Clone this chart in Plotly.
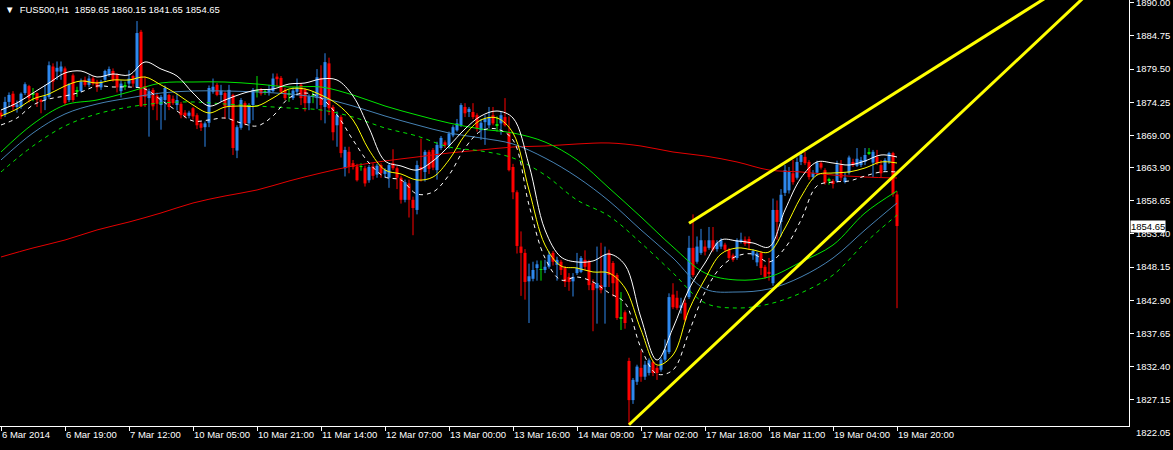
import plotly.graph_objects as go

# FUS500 H1 candles, 6 Mar 2014 - 19 Mar 2014
opens = [
    1872.6, 1872.3, 1874.3, 1875.6, 1873.5, 1873.5, 1875.7, 1876.8,
    1875.5, 1875.7, 1874.6, 1874.6, 1875.1, 1879.9, 1879.1, 1879.1,
    1879.6, 1874.6, 1878.5, 1876.0, 1876.0, 1877.8, 1877.0, 1878.0,
    1877.5, 1876.6, 1877.8, 1878.6, 1879.2, 1878.6, 1876.0, 1876.8,
    1877.2, 1878.4, 1876.6, 1885.4, 1876.8, 1874.9, 1876.2, 1875.3,
    1873.8, 1874.6, 1875.4, 1874.8, 1873.8, 1874.0, 1872.6, 1872.1,
    1873.3, 1872.2, 1870.9, 1870.3, 1871.0, 1875.9, 1877.0, 1875.4,
    1875.7, 1873.6, 1875.4, 1866.6, 1870.2, 1874.1, 1870.9, 1873.8,
    1876.0, 1876.2, 1875.8, 1875.8, 1876.0, 1878.3, 1878.1, 1876.2,
    1875.5, 1874.9, 1875.9, 1877.0, 1876.2, 1874.1, 1875.1, 1874.9,
    1878.1, 1873.5, 1880.4, 1873.5, 1870.6, 1871.9, 1863.8, 1866.4,
    1864.6, 1864.1, 1864.0, 1863.8, 1861.9, 1864.1, 1862.8, 1864.3,
    1862.9, 1862.3, 1864.6, 1863.8, 1862.3, 1858.8, 1861.4, 1858.8,
    1857.2, 1864.0, 1863.2, 1866.4, 1866.7, 1863.5, 1867.0, 1867.9,
    1867.4, 1869.0, 1869.8, 1870.6, 1873.5, 1872.7, 1872.7, 1872.2,
    1869.8, 1871.1, 1870.6, 1872.2, 1870.6, 1870.9, 1871.9, 1869.5,
    1864.0, 1860.0, 1851.4, 1850.4, 1845.9, 1846.3, 1848.0, 1847.7,
    1847.7, 1848.2, 1850.4, 1848.5, 1849.0, 1848.0, 1846.6, 1845.9,
    1847.2, 1847.4, 1849.3, 1849.0, 1845.6, 1844.8, 1845.3, 1845.0,
    1850.4, 1848.8, 1846.9, 1840.0, 1841.0, 1833.3, 1827.1, 1830.0,
    1832.2, 1830.8, 1831.4, 1833.1, 1832.2, 1831.9, 1833.5, 1834.7,
    1843.8, 1843.3, 1841.7, 1842.5, 1843.4, 1851.2, 1849.0, 1850.4,
    1851.4, 1851.2, 1852.4, 1851.0, 1851.4, 1851.7, 1850.9, 1850.0,
    1849.6, 1852.2, 1852.5, 1852.6, 1850.0, 1848.9, 1850.4, 1848.2,
    1847.4, 1845.6, 1857.2, 1855.3, 1859.9, 1860.3, 1863.0, 1862.3,
    1864.8, 1865.6, 1864.8, 1862.4, 1863.1, 1864.6, 1863.5, 1861.8,
    1861.8, 1861.7, 1864.3, 1861.6, 1863.1, 1864.8, 1864.2, 1864.3,
    1864.8, 1866.2, 1864.7, 1865.6, 1864.3, 1863.5, 1864.8, 1866.2,
    1859.65,
]
highs = [
    1873.0, 1875.1, 1875.8, 1876.0, 1874.5, 1875.8, 1877.4, 1877.0,
    1876.5, 1875.8, 1874.8, 1877.0, 1880.7, 1880.4, 1880.7, 1880.7,
    1879.9, 1877.3, 1878.8, 1876.7, 1878.0, 1878.3, 1878.5, 1878.3,
    1877.8, 1877.8, 1879.4, 1879.9, 1879.6, 1878.8, 1877.7, 1877.5,
    1879.3, 1878.6, 1887.1, 1885.7, 1878.3, 1876.4, 1876.5, 1875.8,
    1875.4, 1876.9, 1875.6, 1875.3, 1875.6, 1874.3, 1873.0, 1872.9,
    1873.5, 1872.5, 1871.2, 1871.2, 1876.9, 1878.0, 1877.3, 1877.0,
    1876.0, 1877.0, 1875.6, 1870.6, 1874.9, 1874.4, 1874.1, 1876.5,
    1878.4, 1876.5, 1876.2, 1877.0, 1878.8, 1878.8, 1878.4, 1876.5,
    1876.2, 1876.6, 1878.0, 1877.3, 1876.5, 1875.5, 1876.0, 1879.5,
    1880.1, 1882.0, 1881.3, 1873.8, 1872.8, 1872.2, 1867.2, 1867.2,
    1865.1, 1864.5, 1864.6, 1864.2, 1864.3, 1864.6, 1864.5, 1864.6,
    1863.8, 1864.6, 1866.8, 1864.1, 1862.6, 1862.0, 1862.0, 1859.3,
    1865.0, 1868.5, 1866.7, 1866.7, 1867.0, 1868.0, 1868.9, 1868.2,
    1869.6, 1870.6, 1871.6, 1874.1, 1874.1, 1873.5, 1874.1, 1872.5,
    1871.6, 1872.2, 1873.5, 1873.5, 1872.0, 1872.8, 1874.9, 1872.0,
    1864.5, 1860.3, 1853.8, 1851.0, 1848.7, 1849.0, 1849.2, 1849.2,
    1849.3, 1850.7, 1850.7, 1849.8, 1849.3, 1848.3, 1847.2, 1847.2,
    1850.4, 1849.9, 1850.8, 1849.3, 1846.2, 1851.4, 1852.0, 1851.4,
    1850.9, 1849.1, 1847.2, 1844.2, 1841.3, 1833.8, 1830.6, 1832.7,
    1835.0, 1833.3, 1833.7, 1833.4, 1832.5, 1833.8, 1836.7, 1844.0,
    1845.6, 1844.4, 1843.3, 1843.0, 1853.1, 1856.5, 1853.0, 1854.2,
    1852.4, 1854.5, 1854.5, 1852.4, 1852.7, 1852.0, 1851.2, 1850.3,
    1852.7, 1853.6, 1853.0, 1853.0, 1851.0, 1850.6, 1850.7, 1848.5,
    1849.6, 1859.0, 1858.7, 1860.5, 1864.3, 1864.0, 1865.1, 1865.5,
    1866.4, 1866.4, 1865.1, 1863.5, 1865.0, 1864.9, 1863.8, 1862.3,
    1862.1, 1865.0, 1865.1, 1863.1, 1865.8, 1865.3, 1867.0, 1865.6,
    1867.0, 1867.0, 1866.7, 1866.7, 1865.1, 1865.4, 1866.4, 1866.4,
    1860.15,
]
lows = [
    1871.6, 1871.9, 1873.5, 1873.0, 1872.6, 1873.2, 1875.4, 1874.2,
    1874.4, 1873.5, 1872.5, 1873.0, 1874.8, 1876.2, 1877.8, 1877.8,
    1873.8, 1874.3, 1874.3, 1875.1, 1875.8, 1876.7, 1876.6, 1876.9,
    1875.9, 1876.2, 1877.5, 1878.3, 1877.5, 1875.8, 1875.0, 1876.2,
    1876.6, 1876.6, 1876.5, 1873.5, 1873.5, 1868.8, 1873.0, 1871.4,
    1869.9, 1871.4, 1873.0, 1873.8, 1873.0, 1871.7, 1871.7, 1871.7,
    1871.5, 1870.0, 1869.7, 1867.2, 1870.3, 1875.6, 1875.2, 1874.3,
    1871.6, 1871.6, 1865.9, 1865.4, 1869.9, 1870.6, 1869.8, 1871.4,
    1875.0, 1875.3, 1875.4, 1875.3, 1875.8, 1876.8, 1875.6, 1874.6,
    1874.3, 1874.6, 1875.3, 1873.8, 1872.8, 1873.0, 1874.1, 1873.2,
    1871.4, 1870.9, 1872.2, 1868.2, 1867.2, 1865.5, 1862.5, 1863.0,
    1863.6, 1861.7, 1863.4, 1860.9, 1861.5, 1862.0, 1862.3, 1862.3,
    1862.3, 1860.7, 1863.5, 1860.5, 1858.2, 1858.4, 1856.0, 1853.2,
    1856.5, 1861.7, 1861.7, 1862.9, 1863.5, 1862.0, 1866.7, 1867.0,
    1866.9, 1868.7, 1869.6, 1870.3, 1871.9, 1871.9, 1871.6, 1869.6,
    1868.3, 1867.5, 1870.1, 1870.6, 1869.6, 1869.1, 1870.4, 1863.3,
    1858.9, 1850.3, 1843.6, 1843.0, 1839.3, 1845.9, 1846.0, 1846.0,
    1847.2, 1847.9, 1848.4, 1846.0, 1846.9, 1845.0, 1844.4, 1843.5,
    1846.9, 1847.2, 1847.7, 1844.5, 1838.0, 1839.2, 1844.0, 1839.2,
    1845.0, 1843.5, 1839.8, 1838.2, 1838.4, 1823.2, 1826.5, 1829.5,
    1830.0, 1830.3, 1831.0, 1830.9, 1830.3, 1831.6, 1833.2, 1834.4,
    1841.5, 1841.4, 1840.8, 1839.5, 1843.1, 1846.6, 1848.7, 1850.1,
    1850.0, 1850.9, 1850.6, 1850.6, 1851.0, 1850.6, 1849.3, 1849.0,
    1849.3, 1851.9, 1851.5, 1850.9, 1849.3, 1848.3, 1846.9, 1846.3,
    1846.0, 1845.2, 1852.5, 1853.0, 1859.4, 1859.8, 1861.2, 1862.0,
    1864.3, 1864.3, 1862.0, 1862.0, 1862.7, 1863.6, 1861.2, 1861.2,
    1860.6, 1861.5, 1861.8, 1861.4, 1862.8, 1864.0, 1864.0, 1864.0,
    1864.3, 1865.9, 1862.4, 1864.3, 1862.4, 1863.2, 1864.5, 1859.3,
    1841.65,
]
closes = [
    1872.0, 1874.3, 1875.4, 1873.5, 1873.9, 1875.6, 1877.1, 1874.9,
    1875.5, 1874.6, 1874.4, 1875.2, 1880.1, 1877.5, 1879.7, 1879.9,
    1874.1, 1877.1, 1874.6, 1876.0, 1877.5, 1877.0, 1878.0, 1877.2,
    1876.6, 1877.5, 1879.2, 1879.5, 1877.8, 1876.6, 1877.2, 1876.8,
    1878.0, 1877.2, 1885.2, 1873.6, 1875.1, 1876.0, 1873.6, 1874.0,
    1875.1, 1876.5, 1873.5, 1874.1, 1874.6, 1872.2, 1872.1, 1872.6,
    1872.0, 1870.6, 1870.2, 1870.9, 1876.5, 1876.7, 1875.4, 1876.1,
    1873.6, 1876.2, 1867.0, 1870.3, 1874.6, 1870.9, 1873.8, 1876.2,
    1876.0, 1875.6, 1875.8, 1876.2, 1878.0, 1877.9, 1875.9, 1874.9,
    1875.5, 1876.1, 1876.6, 1874.9, 1874.1, 1875.2, 1875.1, 1878.2,
    1873.8, 1880.6, 1873.3, 1869.5, 1872.2, 1866.2, 1866.7, 1864.0,
    1864.0, 1861.9, 1864.0, 1861.4, 1864.0, 1862.6, 1864.2, 1863.0,
    1863.5, 1864.3, 1863.8, 1862.3, 1858.8, 1861.6, 1858.8, 1857.5,
    1864.3, 1863.5, 1866.4, 1863.7, 1863.9, 1867.5, 1868.6, 1867.4,
    1869.3, 1870.3, 1870.9, 1873.8, 1872.5, 1873.2, 1871.9, 1870.1,
    1871.0, 1871.6, 1871.9, 1870.9, 1870.6, 1872.2, 1870.6, 1863.5,
    1860.0, 1851.5, 1850.4, 1845.8, 1846.7, 1847.7, 1848.6, 1847.7,
    1848.2, 1850.1, 1849.0, 1849.3, 1847.7, 1845.8, 1845.8, 1846.6,
    1848.0, 1849.6, 1848.2, 1845.3, 1844.5, 1845.6, 1844.5, 1850.1,
    1846.9, 1845.6, 1840.1, 1840.0, 1839.3, 1827.1, 1830.3, 1832.4,
    1830.8, 1832.7, 1833.4, 1831.4, 1831.4, 1833.5, 1835.1, 1843.4,
    1841.8, 1841.7, 1842.1, 1839.8, 1851.2, 1846.9, 1851.4, 1852.4,
    1850.6, 1852.4, 1850.9, 1852.0, 1852.4, 1850.9, 1849.6, 1849.3,
    1852.4, 1852.5, 1851.8, 1851.8, 1850.7, 1850.3, 1848.0, 1846.6,
    1847.2, 1857.2, 1855.3, 1859.6, 1863.5, 1863.2, 1861.6, 1864.8,
    1865.9, 1864.6, 1862.4, 1863.0, 1864.7, 1863.9, 1861.5, 1861.8,
    1861.3, 1864.4, 1862.3, 1862.3, 1865.5, 1864.3, 1865.3, 1865.1,
    1865.9, 1866.2, 1866.4, 1864.6, 1863.0, 1865.1, 1866.2, 1859.7,
    1854.65,
]

# time axis: one label every 16 bars
date_bars = list(range(0, 225, 16))
date_labels = ["6 Mar 2014", "6 Mar 19:00", "7 Mar 12:00", "10 Mar 05:00",
               "10 Mar 21:00", "11 Mar 14:00", "12 Mar 07:00", "13 Mar 00:00",
               "13 Mar 16:00", "14 Mar 09:00", "17 Mar 02:00", "17 Mar 18:00",
               "18 Mar 11:00", "19 Mar 04:00", "19 Mar 20:00"]

price_ticks = [1890.00, 1884.75, 1879.50, 1874.25, 1869.00, 1863.90, 1858.65,
               1853.40, 1848.15, 1842.90, 1837.65, 1832.40, 1827.15]
price_bottom = 1822.05
y_min, y_max = 1823.0, 1890.43

# fast envelope (read every 4 bars)
fast_bars = list(range(0, 225, 4))
env_high = [1873.02, 1874.13, 1875.71, 1877.29, 1878.88, 1879.19, 1878.24, 1878.72,
            1878.56, 1880.62, 1879.51, 1878.40, 1875.71, 1873.65, 1874.60, 1875.55,
            1876.19, 1876.34, 1877.13, 1877.29, 1877.93, 1877.77, 1875.24, 1870.17,
            1864.95, 1864.16, 1863.52, 1864.95, 1867.32, 1870.01, 1872.07, 1872.86,
            1871.75, 1864.31, 1854.03, 1849.75, 1848.96, 1849.12, 1850.23, 1848.49,
            1840.10, 1833.45, 1838.51, 1844.69, 1848.80, 1852.44, 1852.29, 1851.97,
            1851.34, 1857.19, 1862.26, 1864.79, 1864.63, 1864.31, 1864.95, 1865.90,
            1865.58]
env_mid = [1872.07, 1873.18, 1874.76, 1875.55, 1876.82, 1877.61, 1877.29, 1877.77,
           1877.77, 1878.24, 1876.98, 1875.55, 1873.81, 1872.55, 1873.49, 1873.65,
           1873.65, 1874.92, 1876.34, 1876.34, 1875.39, 1873.97, 1871.44, 1866.69,
           1863.52, 1862.89, 1861.94, 1862.41, 1865.11, 1869.06, 1871.44, 1871.75,
           1869.38, 1860.36, 1851.65, 1848.33, 1848.01, 1847.38, 1847.22, 1844.85,
           1838.20, 1832.66, 1834.24, 1841.37, 1846.27, 1850.23, 1851.18, 1850.86,
           1850.54, 1854.34, 1859.25, 1862.73, 1863.05, 1863.21, 1863.84, 1864.79,
           1864.63]
env_low = [1870.65, 1871.75, 1873.81, 1874.76, 1875.24, 1875.87, 1876.82, 1876.66,
           1876.66, 1876.34, 1874.60, 1872.86, 1871.28, 1871.44, 1871.75, 1870.96,
           1870.49, 1872.07, 1874.92, 1875.71, 1874.92, 1872.23, 1868.27, 1864.63,
           1862.41, 1861.94, 1859.72, 1860.04, 1862.73, 1867.00, 1869.70, 1870.01,
           1868.27, 1857.98, 1849.59, 1846.11, 1846.59, 1845.80, 1844.06, 1842.47,
           1835.35, 1831.23, 1831.87, 1837.88, 1844.21, 1848.17, 1849.91, 1850.23,
           1848.96, 1851.18, 1855.61, 1860.99, 1861.62, 1861.78, 1862.57, 1863.21,
           1863.21]

# slow channel + long average (read every 8 bars)
slow_bars = list(range(0, 225, 8))
slow_high = [1866.37, 1870.80, 1873.81, 1874.60, 1875.87, 1877.29, 1877.45, 1877.45,
             1877.13, 1876.66, 1876.66, 1875.39, 1873.65, 1872.23, 1870.96, 1870.01,
             1869.38, 1867.95, 1865.11, 1860.67, 1856.08, 1851.34, 1847.22, 1846.11,
             1846.59, 1848.96, 1851.65, 1856.72, 1860.20]
slow_mid = [1865.11, 1869.38, 1872.39, 1873.97, 1874.92, 1875.71, 1876.03, 1876.03,
            1875.87, 1875.55, 1874.92, 1873.65, 1872.07, 1870.65, 1869.38, 1868.59,
            1867.64, 1865.42, 1862.41, 1858.62, 1854.03, 1849.59, 1844.69, 1844.21,
            1844.69, 1846.59, 1849.59, 1854.03, 1858.30]
slow_low = [1863.21, 1867.32, 1870.49, 1872.39, 1873.49, 1874.13, 1874.29, 1873.97,
            1873.65, 1873.34, 1873.02, 1871.91, 1870.17, 1868.90, 1867.16, 1866.53,
            1865.42, 1862.73, 1858.77, 1856.24, 1851.97, 1847.22, 1842.47, 1841.68,
            1842.31, 1844.06, 1846.90, 1851.97, 1856.40]
long_ma = [1849.75, 1851.18, 1852.44, 1854.03, 1855.29, 1856.72, 1858.30, 1859.41,
           1860.36, 1861.78, 1863.05, 1864.16, 1864.95, 1865.58, 1866.21, 1866.69,
           1867.16, 1867.32, 1867.64, 1867.80, 1867.32, 1866.37, 1865.74, 1864.79,
           1863.52, 1863.21, 1862.73, 1862.41, 1862.26]

# hand-drawn trend lines (bar, price anchors)
upper_trend_bars = [172, 262]
upper_trend_prices = [1855.1, 1891.1]
lower_trend_bars = [157, 272]
lower_trend_prices = [1823.2, 1891.6]

UP = "#2f88ee"
DOWN = "#ff0000"
DOJI = "#00e600"
FONT = "Liberation Sans, Arial, sans-serif"

bars = list(range(len(opens)))
body_col, body_base, body_len = [], [], []
wicks = {UP: ([], []), DOWN: ([], []), DOJI: ([], [])}
for i in bars:
    o, h, l, c = opens[i], highs[i], lows[i], closes[i]
    if abs(c - o) < 1e-9:
        col = DOJI
    elif c > o:
        col = UP
    else:
        col = DOWN
    body_col.append(col)
    body_base.append(min(o, c))
    body_len.append(max(abs(c - o), 0.15))
    wicks[col][0].extend([i, i, None])
    wicks[col][1].extend([l, h, None])

fig = go.Figure()

for col, (wx, wy) in wicks.items():
    fig.add_trace(go.Scatter(x=wx, y=wy, mode="lines",
                             line=dict(color=col, width=1), hoverinfo="skip"))

fig.add_trace(go.Bar(x=bars, y=body_len, base=body_base, width=0.75,
                     marker=dict(color=body_col, line=dict(width=0))))

# slow channel and long average
fig.add_trace(go.Scatter(x=slow_bars, y=long_ma, mode="lines",
                         line=dict(color="#e60000", width=1, shape="spline")))
fig.add_trace(go.Scatter(x=slow_bars, y=slow_high, mode="lines",
                         line=dict(color="#00e600", width=1, shape="spline")))
fig.add_trace(go.Scatter(x=slow_bars, y=slow_mid, mode="lines",
                         line=dict(color="#4682b4", width=1, shape="spline")))
fig.add_trace(go.Scatter(x=slow_bars, y=slow_low, mode="lines",
                         line=dict(color="#00e600", width=1, dash="4px,4px", shape="spline")))

# fast envelope
fig.add_trace(go.Scatter(x=fast_bars, y=env_high, mode="lines",
                         line=dict(color="white", width=1, shape="spline")))
fig.add_trace(go.Scatter(x=fast_bars, y=env_mid, mode="lines",
                         line=dict(color="#ffff00", width=1, shape="spline")))
fig.add_trace(go.Scatter(x=fast_bars, y=env_low, mode="lines",
                         line=dict(color="white", width=1, dash="4px,4px", shape="spline")))

# trend lines
fig.add_trace(go.Scatter(x=upper_trend_bars, y=upper_trend_prices, mode="lines",
                         line=dict(color="#ffff00", width=3)))
fig.add_trace(go.Scatter(x=lower_trend_bars, y=lower_trend_prices, mode="lines",
                         line=dict(color="#ffff00", width=3)))

header = "\u25BC  FUS500,H1  {:.2f} {:.2f} {:.2f} {:.2f}".format(
    opens[-1], highs[-1], lows[-1], closes[-1])


def edge_label(price):
    # price label for the scale ends that plotly drops
    return dict(text="{:.2f}".format(price), xref="paper", yref="paper", x=1.0,
                y=(price - y_min) / (y_max - y_min), xanchor="left",
                yanchor="middle", showarrow=False, xshift=5,
                font=dict(family=FONT, size=9.5, color="white"))


fig.update_layout(
    width=1173, height=450,
    margin=dict(l=0, r=44, t=0, b=24, pad=0),
    paper_bgcolor="black", plot_bgcolor="black",
    showlegend=False, barmode="overlay", hovermode=False,
    font=dict(family=FONT, size=9.5, color="white"),
    xaxis=dict(range=[-0.25, 282.0], tickmode="array", tickvals=date_bars,
               ticktext=date_labels, ticks="outside", ticklen=4, tickcolor="white",
               tickangle=0, automargin=False,
               ticklabelposition="outside right", showgrid=False, zeroline=False,
               showline=True, linecolor="white", linewidth=1),
    yaxis=dict(range=[y_min, y_max], side="right", tickmode="array",
               tickvals=price_ticks, ticktext=["{:.2f}".format(p) for p in price_ticks],
               ticks="outside", ticklen=4, tickcolor="white", showgrid=False,
               automargin=False,
               zeroline=False, showline=True, linecolor="white", linewidth=1),
    annotations=[
        dict(text=header, xref="paper", yref="paper", x=0.003, y=1.0,
             xanchor="left", yanchor="top", showarrow=False, yshift=-2,
             font=dict(family=FONT, size=9.5, color="white")),
        dict(text="{:.2f}".format(closes[-1]), xref="paper", yref="y", x=1.0,
             y=closes[-1], xanchor="left", yanchor="middle", showarrow=False,
             xshift=1, bgcolor="white", borderpad=0,
             font=dict(family=FONT, size=9.5, color="black")),
        edge_label(price_ticks[0]),
        edge_label(price_bottom),
    ],
)

fig.write_html("out.html", config={"displayModeBar": False},
               post_script="document.body.style.margin='0px';document.body.style.overflow='hidden';")
